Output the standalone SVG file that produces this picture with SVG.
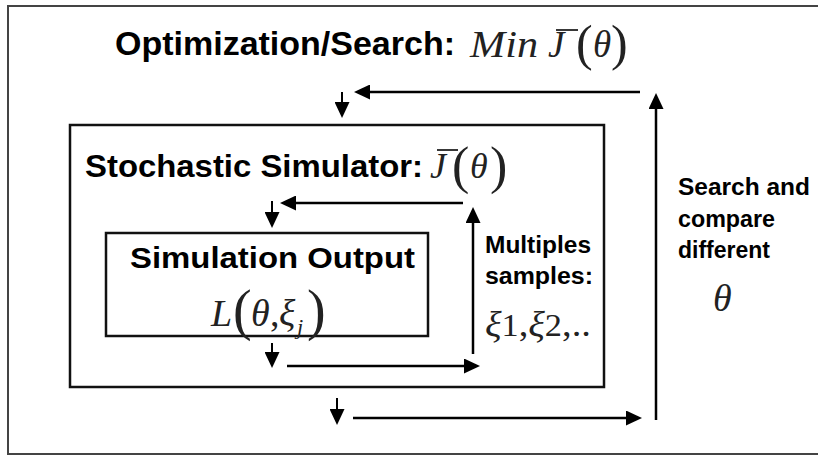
<svg xmlns="http://www.w3.org/2000/svg" width="818" height="456" viewBox="0 0 818 456">
  <defs>
    <!-- filled triangular arrowhead; line ends 2px inside the base -->
    <marker id="ah" markerUnits="userSpaceOnUse" markerWidth="16" markerHeight="15" refX="2" refY="7.5" orient="auto">
      <path d="M0,0 L16,7.5 L0,15 Z" fill="#000"/>
    </marker>
  </defs>
  <style>
    .frame{fill:#fff;stroke:#444;stroke-width:2}
    .box{fill:#fff;stroke:#111;stroke-width:2.5}
    .lbl{font-family:"Liberation Sans",Arial,sans-serif;font-weight:bold;fill:#000}
    .math{font-family:"Liberation Serif","Times New Roman",serif;font-style:italic;fill:#222}
    .rm{font-style:normal}
    .bar{stroke:#222;stroke-width:1.8}
    .wire{fill:none;stroke:#000;stroke-width:2.5;marker-end:url(#ah)}
    .stem{fill:none;stroke:#000;stroke-width:2;marker-end:url(#ah)}
  </style>

  <rect width="818" height="456" fill="#fff"/>

  <!-- outer level: optimization / search -->
  <g id="optimization">
    <rect class="frame" x="8" y="6" width="830" height="448"/>
    <text class="lbl" x="115" y="55" font-size="34" textLength="340" lengthAdjust="spacingAndGlyphs">Optimization/Search:</text>
    <text class="math" x="470" y="57" font-size="37" textLength="68" lengthAdjust="spacingAndGlyphs">Min</text>
    <text class="math" x="548" y="57" font-size="37">J</text>
    <line class="bar" x1="556" y1="30" x2="578" y2="30"/>
    <text class="math rm" x="576" y="60" font-size="50">(</text>
    <text class="math" x="593" y="57" font-size="37">θ</text>
    <text class="math rm" x="611" y="60" font-size="50">)</text>
  </g>

  <!-- middle level: stochastic simulator -->
  <g id="simulator">
    <rect class="box" x="70" y="125" width="534" height="262"/>
    <text class="lbl" x="85" y="177" font-size="31" textLength="338" lengthAdjust="spacingAndGlyphs">Stochastic Simulator:</text>
    <text class="math" x="430" y="178" font-size="36">J</text>
    <line class="bar" x1="437" y1="150" x2="458" y2="150"/>
    <text class="math rm" x="452" y="183" font-size="52">(</text>
    <text class="math" x="470" y="178" font-size="36">θ</text>
    <text class="math rm" x="490" y="183" font-size="52">)</text>
  </g>

  <!-- inner level: one simulation run -->
  <g id="output">
    <rect class="box" x="106" y="233" width="322" height="103"/>
    <text class="lbl" x="130" y="268" font-size="29" textLength="285" lengthAdjust="spacingAndGlyphs">Simulation Output</text>
    <text class="math" x="211" y="326" font-size="38">L</text>
    <text class="math rm" x="233" y="329" font-size="56">(</text>
    <text class="math" x="251" y="326" font-size="38">θ</text>
    <text class="math rm" x="270" y="326" font-size="38">,</text>
    <text class="math" x="279" y="326" font-size="38">ξ</text>
    <text class="math" x="297" y="334" font-size="22">j</text>
    <text class="math rm" x="307" y="329" font-size="56">)</text>
  </g>

  <g id="samples">
    <text class="lbl" x="485" y="253" font-size="23" textLength="106" lengthAdjust="spacingAndGlyphs">Multiples</text>
    <text class="lbl" x="485" y="284" font-size="23" textLength="108" lengthAdjust="spacingAndGlyphs">samples:</text>
    <text class="math" x="485" y="336" font-size="36" textLength="106" lengthAdjust="spacingAndGlyphs">ξ<tspan class="rm" font-size="32">1</tspan><tspan class="rm">,</tspan>ξ<tspan class="rm" font-size="32">2</tspan><tspan class="rm">,..</tspan></text>
  </g>

  <g id="search">
    <text class="lbl" x="678" y="195" font-size="23" textLength="132" lengthAdjust="spacingAndGlyphs">Search and</text>
    <text class="lbl" x="678" y="227" font-size="23" textLength="97" lengthAdjust="spacingAndGlyphs">compare</text>
    <text class="lbl" x="678" y="258" font-size="23" textLength="92" lengthAdjust="spacingAndGlyphs">different</text>
    <text class="math" x="713" y="311" font-size="38">θ</text>
  </g>

  <!-- feedback loops -->
  <g id="connectors">
    <!-- outer loop -->
    <path class="wire" d="M640,92 H368"/>
    <path class="stem" d="M342,92 V104"/>
    <path class="stem" d="M337,398 V411"/>
    <path class="wire" d="M353,418 H628"/>
    <path class="wire" d="M656,420 V107"/>
    <!-- inner loop -->
    <path class="wire" d="M463,203 H294"/>
    <path class="stem" d="M272,201 V214"/>
    <path class="stem" d="M272,343 V354"/>
    <path class="wire" d="M287,366 H466"/>
    <path class="wire" d="M473,354 V221"/>
  </g>
</svg>
